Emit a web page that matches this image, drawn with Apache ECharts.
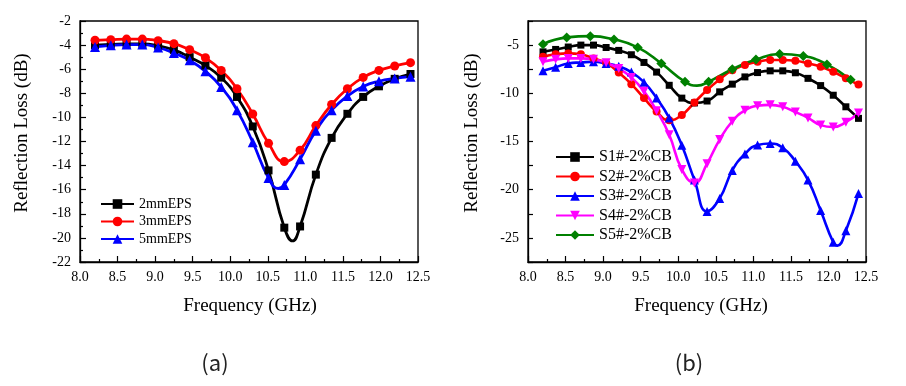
<!DOCTYPE html>
<html>
<head>
<meta charset="utf-8">
<script src="https://cdn.jsdelivr.net/npm/echarts@6/dist/echarts.min.js"></script>
<style>
html,body{margin:0;padding:0;background:#fff;}
#chart{width:906px;height:386px;}
</style>
</head>
<body>
<div id="chart"></div>
<script>
// ---------- Data: panel (a) ----------
const freqA = [8.2, 8.41, 8.62, 8.83, 9.04, 9.25, 9.46, 9.67, 9.88, 10.09, 10.30, 10.51, 10.72, 10.93, 11.14, 11.35, 11.56, 11.77, 11.98, 12.19, 12.40];
const loss2mm = [-4.0, -3.95, -3.9, -3.9, -4.05, -4.4, -5.0, -5.7, -6.7, -8.3, -10.75, -14.4, -19.15, -19.05, -14.75, -11.7, -9.7, -8.3, -7.42, -6.8, -6.4];
const loss3mm = [-3.6, -3.55, -3.5, -3.5, -3.63, -3.88, -4.38, -5.05, -6.1, -7.62, -9.72, -12.15, -13.67, -12.72, -10.68, -8.93, -7.62, -6.68, -6.1, -5.73, -5.46];
const loss5mm = [-4.15, -4.02, -3.96, -3.96, -4.2, -4.65, -5.26, -6.18, -7.48, -9.4, -12.06, -15.03, -15.6, -13.48, -11.1, -9.4, -8.22, -7.43, -7.0, -6.77, -6.62];
// curve minima visible between markers (line only, no marker)
const curve2mm = [[10.83, -20.25]];
const curve5mm = [[10.64, -15.9]];
const namesA = ['2mmEPS', '3mmEPS', '5mmEPS'];

// ---------- Data: panel (b) ----------
const freqB = [8.2, 8.368, 8.536, 8.704, 8.872, 9.04, 9.208, 9.376, 9.544, 9.712, 9.88, 10.048, 10.216, 10.384, 10.552, 10.72, 10.888, 11.056, 11.224, 11.392, 11.56, 11.728, 11.896, 12.064, 12.232, 12.4];
const lossS1 = [-5.7, -5.45, -5.2, -5.0, -5.0, -5.25, -5.55, -6.0, -6.8, -7.8, -9.17, -10.5, -11.0, -10.8, -9.85, -9.05, -8.3, -7.85, -7.67, -7.67, -7.87, -8.45, -9.2, -10.2, -11.4, -12.6];
const lossS2 = [-6.2, -5.95, -5.86, -5.95, -6.4, -6.85, -7.85, -9.05, -10.5, -11.9, -12.8, -12.25, -10.95, -9.65, -8.55, -7.6, -7.07, -6.73, -6.55, -6.55, -6.62, -6.9, -7.25, -7.76, -8.45, -9.1];
const lossS3 = [-7.66, -7.3, -6.9, -6.8, -6.73, -6.9, -7.2, -7.8, -8.85, -10.5, -12.55, -15.4, -19.0, -22.25, -20.9, -18.0, -16.3, -15.36, -15.2, -15.65, -17.05, -19.0, -22.15, -25.45, -24.25, -20.4];
const lossS4 = [-6.73, -6.48, -6.38, -6.38, -6.48, -6.83, -7.42, -8.35, -9.8, -11.8, -14.3, -17.9, -19.3, -17.3, -14.8, -12.9, -11.77, -11.3, -11.2, -11.4, -11.95, -12.55, -13.3, -13.5, -13.0, -12.05];
const freqS5 = [8.2, 8.515, 8.83, 9.145, 9.46, 9.775, 10.09, 10.405, 10.72, 11.035, 11.35, 11.665, 11.98, 12.295];
const lossS5 = [-4.9, -4.2, -4.07, -4.41, -5.24, -6.9, -8.8, -8.8, -7.5, -6.5, -5.93, -6.14, -7.0, -8.6];
const curveS5 = [[10.25, -9.2]];
const curveS3 = [[12.12, -25.8]];
const namesB = ['S1#-2%CB', 'S2#-2%CB', 'S3#-2%CB', 'S4#-2%CB', 'S5#-2%CB'];

// ---------- Axis ticks ----------
const xMin = 8.0, xMax = 12.5, xStep = 0.5;
const yMinA = -22, yMaxA = -2, yStepA = 2;
const yMinB = -27.5, yMaxB = -2.5, yStepB = 2.5, yLabelStepB = 5;

function build(xs, ys, extra) {
  const pts = xs.map((x, i) => ({ value: [x, ys[i]] }));
  (extra || []).forEach(p => pts.push({ value: p, symbol: 'none' }));
  pts.sort((a, b) => a.value[0] - b.value[0]);
  return pts;
}

const SERIF = 'Liberation Serif';
const invTri = 'path://M0,0 L10,0 L5,9 Z';

function xAxisDef(gi) {
  return {
    type: 'value', gridIndex: gi, min: xMin, max: xMax, interval: xStep,
    axisLine: { show: true, onZero: false, lineStyle: { color: '#000', width: 1.3 } },
    axisTick: { show: true, inside: true, length: 6, lineStyle: { color: '#000', width: 1.2 } },
    minorTick: { show: true, splitNumber: 2, length: 3, lineStyle: { color: '#000', width: 1.2 } },
    splitLine: { show: false },
    axisLabel: { color: '#000', fontFamily: SERIF, fontSize: 14, margin: 8, formatter: v => v.toFixed(1) }
  };
}

const option = {
  backgroundColor: '#fff',
  animation: false,
  grid: [
    { left: 80, right: 488, top: 21, bottom: 124, show: true, borderColor: '#000', borderWidth: 1.3 },
    { left: 528, right: 40, top: 21, bottom: 124, show: true, borderColor: '#000', borderWidth: 1.3 }
  ],
  xAxis: [xAxisDef(0), xAxisDef(1)],
  yAxis: [
    {
      type: 'value', gridIndex: 0, min: yMinA, max: yMaxA, interval: yStepA,
      axisLine: { show: true, lineStyle: { color: '#000', width: 1.3 } },
      axisTick: { show: true, inside: true, length: 6, lineStyle: { color: '#000', width: 1.2 } },
      minorTick: { show: true, splitNumber: 2, length: 3, lineStyle: { color: '#000', width: 1.2 } },
      splitLine: { show: false },
      axisLabel: { color: '#000', fontFamily: SERIF, fontSize: 14, margin: 9 }
    },
    {
      type: 'value', gridIndex: 1, min: yMinB, max: yMaxB, interval: yStepB,
      axisLine: { show: true, lineStyle: { color: '#000', width: 1.3 } },
      axisTick: { show: true, inside: true, length: 5, lineStyle: { color: '#000', width: 1.2 } },
      splitLine: { show: false },
      axisLabel: { color: '#000', fontFamily: SERIF, fontSize: 14, margin: 9,
        formatter: v => (Math.abs(v % yLabelStepB) < 1e-6 ? String(v) : '') }
    }
  ],
  legend: [
    {
      data: namesA, orient: 'vertical', left: 95, top: 192, itemWidth: 33, itemHeight: 12, itemGap: 3.5,
      textStyle: { fontFamily: SERIF, fontSize: 14, color: '#000' }, selectedMode: false
    },
    {
      data: namesB, orient: 'vertical', left: 550, top: 144, itemWidth: 38, itemHeight: 12, itemGap: 3.5,
      textStyle: { fontFamily: SERIF, fontSize: 16, color: '#000' }, selectedMode: false
    }
  ],
  series: [
    { name: namesA[0], type: 'line', xAxisIndex: 0, yAxisIndex: 0, smooth: true, symbol: 'rect', symbolSize: 8,
      data: build(freqA, loss2mm, curve2mm), lineStyle: { color: '#000', width: 2.8 }, itemStyle: { color: '#000' } },
    { name: namesA[1], type: 'line', xAxisIndex: 0, yAxisIndex: 0, smooth: true, symbol: 'circle', symbolSize: 9,
      data: build(freqA, loss3mm), lineStyle: { color: '#ff0000', width: 2.8 }, itemStyle: { color: '#ff0000' } },
    { name: namesA[2], type: 'line', xAxisIndex: 0, yAxisIndex: 0, smooth: true, symbol: 'triangle', symbolSize: 10,
      data: build(freqA, loss5mm, curve5mm), lineStyle: { color: '#0000ff', width: 2.8 }, itemStyle: { color: '#0000ff' } },

    { name: namesB[0], type: 'line', xAxisIndex: 1, yAxisIndex: 1, smooth: true, symbol: 'rect', symbolSize: 7,
      data: build(freqB, lossS1), lineStyle: { color: '#000', width: 2.6 }, itemStyle: { color: '#000' } },
    { name: namesB[1], type: 'line', xAxisIndex: 1, yAxisIndex: 1, smooth: true, symbol: 'circle', symbolSize: 8,
      data: build(freqB, lossS2), lineStyle: { color: '#ff0000', width: 2.6 }, itemStyle: { color: '#ff0000' } },
    { name: namesB[2], type: 'line', xAxisIndex: 1, yAxisIndex: 1, smooth: true, symbol: 'triangle', symbolSize: 9,
      data: build(freqB, lossS3, curveS3), lineStyle: { color: '#0000ff', width: 2.6 }, itemStyle: { color: '#0000ff' } },
    { name: namesB[3], type: 'line', xAxisIndex: 1, yAxisIndex: 1, smooth: true, symbol: invTri, symbolSize: 9,
      data: build(freqB, lossS4), lineStyle: { color: '#ff00ff', width: 2.6 }, itemStyle: { color: '#ff00ff' } },
    { name: namesB[4], type: 'line', xAxisIndex: 1, yAxisIndex: 1, smooth: true, symbol: 'diamond', symbolSize: 10,
      data: build(freqS5, lossS5, curveS5), lineStyle: { color: '#008000', width: 2.6 }, itemStyle: { color: '#008000' } }
  ],
  graphic: [
    { type: 'text', x: 22, y: 133, rotation: Math.PI / 2,
      style: { text: 'Reflection Loss (dB)', fontFamily: SERIF, fontSize: 19, fill: '#000', align: 'center', verticalAlign: 'middle' } },
    { type: 'text', x: 472, y: 133, rotation: Math.PI / 2,
      style: { text: 'Reflection Loss (dB)', fontFamily: SERIF, fontSize: 19, fill: '#000', align: 'center', verticalAlign: 'middle' } },
    { type: 'text', x: 250, y: 306,
      style: { text: 'Frequency (GHz)', fontFamily: SERIF, fontSize: 19, fill: '#000', align: 'center', verticalAlign: 'middle' } },
    { type: 'text', x: 701, y: 306,
      style: { text: 'Frequency (GHz)', fontFamily: SERIF, fontSize: 19, fill: '#000', align: 'center', verticalAlign: 'middle' } },
    { type: 'text', x: 215, y: 363,
      style: { text: '(a)', fontFamily: 'Noto Sans CJK SC', fontSize: 22, fill: '#222', align: 'center', verticalAlign: 'middle' } },
    { type: 'text', x: 689, y: 363,
      style: { text: '(b)', fontFamily: 'Noto Sans CJK SC', fontSize: 22, fill: '#222', align: 'center', verticalAlign: 'middle' } }
  ]
};

const chart = echarts.init(document.getElementById('chart'), null, { renderer: 'canvas' });
chart.setOption(option);
</script>
</body>
</html>
